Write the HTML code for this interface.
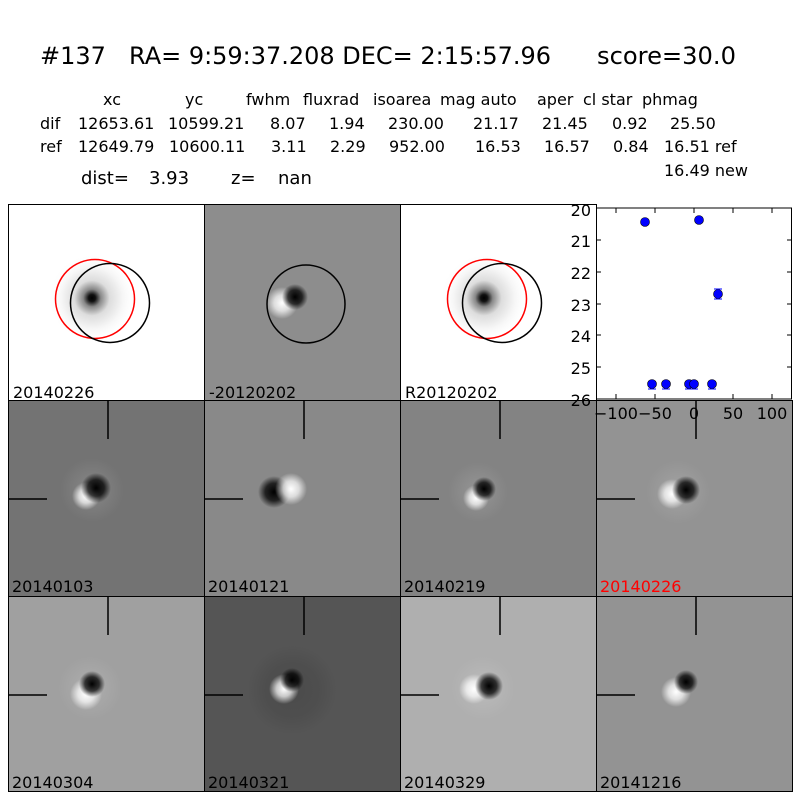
<!DOCTYPE html>
<html><head><meta charset="utf-8"><style>
html,body{margin:0;padding:0;background:#fff}
svg{display:block;font-family:"DejaVu Sans","Liberation Sans",sans-serif}
text{white-space:pre}
</style></head><body>
<svg width="800" height="800" viewBox="0 0 800 800" xmlns="http://www.w3.org/2000/svg">
<defs>
<radialGradient id="dk"><stop offset="0" stop-color="#000" stop-opacity="1"/><stop offset="0.55" stop-color="#000" stop-opacity="0.75"/><stop offset="1" stop-color="#000" stop-opacity="0"/></radialGradient>
<radialGradient id="wt"><stop offset="0" stop-color="#fff" stop-opacity="1"/><stop offset="0.5" stop-color="#fff" stop-opacity="0.7"/><stop offset="1" stop-color="#fff" stop-opacity="0"/></radialGradient>
<radialGradient id="halo"><stop offset="0" stop-color="#fff" stop-opacity="0.15"/><stop offset="1" stop-color="#fff" stop-opacity="0"/></radialGradient>
<radialGradient id="dhalo"><stop offset="0" stop-color="#000" stop-opacity="0.12"/><stop offset="0.6" stop-color="#000" stop-opacity="0.08"/><stop offset="1" stop-color="#000" stop-opacity="0"/></radialGradient>
<radialGradient id="star"><stop offset="0" stop-color="#000"/><stop offset="0.08" stop-color="#111"/><stop offset="0.2" stop-color="#888"/><stop offset="0.4" stop-color="#ddd"/><stop offset="0.7" stop-color="#f6f6f6"/><stop offset="1" stop-color="#fff" stop-opacity="0"/></radialGradient>
</defs>
<rect width="800" height="800" fill="#fff"/>
<g font-size="24">
<text x="40" y="64">#137</text>
<text x="129" y="64" textLength="422" lengthAdjust="spacingAndGlyphs">RA= 9:59:37.208 DEC= 2:15:57.96</text>
<text x="597" y="64" textLength="139" lengthAdjust="spacingAndGlyphs">score=30.0</text>
</g>
<g font-size="16">
<text x="103" y="105">xc</text><text x="185" y="105">yc</text><text x="246" y="105">fwhm</text><text x="303" y="105">fluxrad</text><text x="373" y="105">isoarea</text><text x="440" y="105">mag auto</text><text x="537" y="105">aper</text><text x="583" y="105">cl star</text><text x="642" y="105">phmag</text>
<text x="40" y="129">dif</text><text x="78" y="129">12653.61</text><text x="168" y="129">10599.21</text><text x="270" y="129">8.07</text><text x="329" y="129">1.94</text><text x="388" y="129">230.00</text><text x="473" y="129">21.17</text><text x="542" y="129">21.45</text><text x="612" y="129">0.92</text><text x="670" y="129">25.50</text>
<text x="40" y="152">ref</text><text x="78" y="152">12649.79</text><text x="169" y="152">10600.11</text><text x="271" y="152">3.11</text><text x="330" y="152">2.29</text><text x="389" y="152">952.00</text><text x="475" y="152">16.53</text><text x="544" y="152">16.57</text><text x="613" y="152">0.84</text><text x="664" y="152">16.51 ref</text>
<text x="664" y="176">16.49 new</text>
<text x="81" y="184" font-size="18">dist=</text><text x="149" y="184" font-size="18">3.93</text><text x="231" y="184" font-size="18">z=</text><text x="278" y="184" font-size="18">nan</text>
</g>
<!-- row1 -->
<rect x="8" y="204" width="196" height="196" fill="#fff"/>
<circle cx="92" cy="298" r="44" fill="url(#star)"/>
<circle cx="95" cy="299" r="39.5" fill="none" stroke="#f00" stroke-width="1.5"/>
<circle cx="110" cy="303" r="39.5" fill="none" stroke="#000" stroke-width="1.5"/>
<rect x="204" y="204" width="196" height="196" fill="#8d8d8d"/>
<circle cx="282" cy="303" r="16" fill="url(#wt)"/><circle cx="295" cy="297" r="13" fill="url(#dk)"/>
<circle cx="306" cy="304" r="39" fill="none" stroke="#000" stroke-width="1.5"/>
<rect x="400" y="204" width="196" height="196" fill="#fff"/>
<circle cx="484" cy="298" r="44" fill="url(#star)"/>
<circle cx="487" cy="299" r="39.5" fill="none" stroke="#f00" stroke-width="1.5"/>
<circle cx="502" cy="303" r="39.5" fill="none" stroke="#000" stroke-width="1.5"/>
<rect x="596" y="204" width="196" height="196" fill="#fff"/>
<!-- row2 -->
<rect x="8" y="400" width="196" height="196" fill="#737373"/>
<circle cx="92" cy="490" r="32" fill="url(#halo)"/><circle cx="86" cy="496" r="14" fill="url(#wt)"/><circle cx="96" cy="488" r="15" fill="url(#dk)"/>
<rect x="204" y="400" width="196" height="196" fill="#898989"/>
<circle cx="274" cy="492" r="16" fill="url(#dk)"/><circle cx="291" cy="489" r="16" fill="url(#wt)"/>
<rect x="400" y="400" width="196" height="196" fill="#838383"/>
<circle cx="478" cy="492" r="30" fill="url(#halo)"/><circle cx="476" cy="498" r="13" fill="url(#wt)"/><circle cx="484" cy="489" r="12" fill="url(#dk)"/>
<rect x="596" y="400" width="196" height="196" fill="#939393"/>
<circle cx="678" cy="492" r="32" fill="url(#halo)"/><circle cx="672" cy="494" r="15" fill="url(#wt)"/><circle cx="686" cy="490" r="14" fill="url(#dk)"/>
<!-- row3 -->
<rect x="8" y="596" width="196" height="196" fill="#a0a0a0"/>
<circle cx="90" cy="688" r="32" fill="url(#halo)"/><circle cx="86" cy="694" r="16" fill="url(#wt)"/><circle cx="92" cy="684" r="13" fill="url(#dk)"/>
<rect x="204" y="596" width="196" height="196" fill="#555"/>
<circle cx="292" cy="690" r="45" fill="url(#dhalo)"/><circle cx="284" cy="689" r="15" fill="url(#wt)"/><circle cx="292" cy="680" r="12" fill="url(#dk)"/>
<rect x="400" y="596" width="196" height="196" fill="#afafaf"/>
<circle cx="483" cy="688" r="32" fill="url(#halo)"/><circle cx="474" cy="689" r="15" fill="url(#wt)"/><circle cx="489" cy="686" r="14" fill="url(#dk)"/>
<rect x="596" y="596" width="196" height="196" fill="#939393"/>
<circle cx="676" cy="692" r="15" fill="url(#wt)"/><circle cx="686" cy="682" r="12" fill="url(#dk)"/>
<!-- crosshairs -->
<g stroke="#000" stroke-width="1.5">
<line x1="108" y1="400" x2="108" y2="439"/><line x1="8" y1="499" x2="47" y2="499"/>
<line x1="304" y1="400" x2="304" y2="439"/><line x1="204" y1="499" x2="243" y2="499"/>
<line x1="500" y1="400" x2="500" y2="439"/><line x1="400" y1="499" x2="439" y2="499"/>
<line x1="696" y1="400" x2="696" y2="439"/><line x1="596" y1="499" x2="635" y2="499"/>
<line x1="108" y1="596" x2="108" y2="635"/><line x1="8" y1="695" x2="47" y2="695"/>
<line x1="304" y1="596" x2="304" y2="635"/><line x1="204" y1="695" x2="243" y2="695"/>
<line x1="500" y1="596" x2="500" y2="635"/><line x1="400" y1="695" x2="439" y2="695"/>
<line x1="696" y1="596" x2="696" y2="635"/><line x1="596" y1="695" x2="635" y2="695"/>
</g>
<g fill="none" stroke="#000" stroke-width="1">
<rect x="8.5" y="204.5" width="196" height="196"/><rect x="204.5" y="204.5" width="196" height="196"/><rect x="400.5" y="204.5" width="196" height="196"/>
<rect x="8.5" y="400.5" width="196" height="196"/><rect x="204.5" y="400.5" width="196" height="196"/><rect x="400.5" y="400.5" width="196" height="196"/><rect x="596.5" y="400.5" width="196" height="196"/>
<rect x="8.5" y="596.5" width="196" height="195"/><rect x="204.5" y="596.5" width="196" height="195"/><rect x="400.5" y="596.5" width="196" height="195"/><rect x="596.5" y="596.5" width="196" height="195"/>
</g>
<g font-size="16">
<text x="13" y="398">20140226</text><text x="209" y="398">-20120202</text><text x="405" y="398">R20120202</text>
<text x="12" y="592">20140103</text><text x="208" y="592">20140121</text><text x="404" y="592">20140219</text><text x="600" y="592" fill="#f00">20140226</text>
<text x="12" y="788">20140304</text><text x="208" y="788">20140321</text><text x="404" y="788">20140329</text><text x="600" y="788">20141216</text>
</g>
<rect x="596.5" y="208" width="195" height="191" fill="none" stroke="#000" stroke-width="1"/>
<g stroke="#000" stroke-width="1">
<line x1="596" y1="240" x2="601" y2="240"/><line x1="596" y1="272" x2="601" y2="272"/><line x1="596" y1="304" x2="601" y2="304"/><line x1="596" y1="335" x2="601" y2="335"/><line x1="596" y1="367" x2="601" y2="367"/>
<line x1="792" y1="240" x2="787" y2="240"/><line x1="792" y1="272" x2="787" y2="272"/><line x1="792" y1="304" x2="787" y2="304"/><line x1="792" y1="335" x2="787" y2="335"/><line x1="792" y1="367" x2="787" y2="367"/>
<line x1="616" y1="208" x2="616" y2="213"/><line x1="655" y1="208" x2="655" y2="213"/><line x1="694" y1="208" x2="694" y2="213"/><line x1="733" y1="208" x2="733" y2="213"/><line x1="772" y1="208" x2="772" y2="213"/>
<line x1="616" y1="399" x2="616" y2="394"/><line x1="655" y1="399" x2="655" y2="394"/><line x1="733" y1="399" x2="733" y2="394"/><line x1="772" y1="399" x2="772" y2="394"/>
</g>
<g font-size="16" text-anchor="end">
<text x="591" y="216">20</text><text x="591" y="247">21</text><text x="591" y="279">22</text><text x="591" y="311">23</text><text x="591" y="342">24</text><text x="591" y="374">25</text><text x="591" y="406">26</text>
</g>
<g font-size="16" text-anchor="middle">
<text x="616" y="419">−100</text><text x="655" y="419">−50</text><text x="694" y="419">0</text><text x="733" y="419">50</text><text x="772" y="419">100</text>
</g>
<g fill="#0000ff" stroke="#000" stroke-width="0.6">
<circle cx="645" cy="222" r="4.5"/><circle cx="699" cy="220" r="4.5"/><circle cx="718" cy="294" r="4.5"/>
<circle cx="652" cy="384" r="4.5"/><circle cx="666" cy="384" r="4.5"/><circle cx="689" cy="384" r="4.5"/><circle cx="694" cy="384" r="4.5"/><circle cx="712" cy="384" r="4.5"/>
</g>
<g stroke="#00f" stroke-width="1">
<line x1="714" y1="289" x2="722" y2="289"/><line x1="714" y1="299" x2="722" y2="299"/>
<line x1="648" y1="389" x2="656" y2="389"/><line x1="662" y1="389" x2="670" y2="389"/><line x1="685" y1="389" x2="698" y2="389"/><line x1="708" y1="389" x2="716" y2="389"/>
</g>
</svg>
</body></html>
